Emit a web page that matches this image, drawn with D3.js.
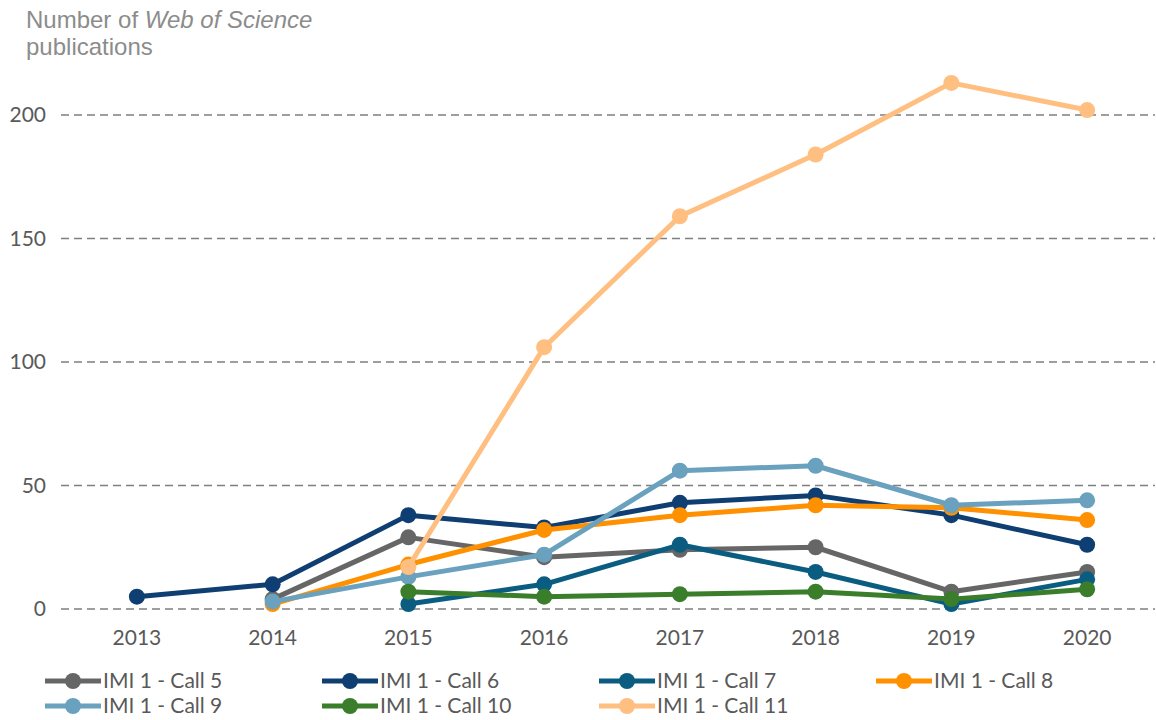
<!DOCTYPE html>
<html>
<head>
<meta charset="utf-8">
<script src="https://cdn.jsdelivr.net/npm/d3@7"></script>
<style>
  body { margin: 0; background: #fff; }
  svg { display: block; font-family: Lato, "Liberation Sans", Arial, sans-serif; }
</style>
</head>
<body>
<svg id="chart" width="1156" height="720"></svg>
<script>
// years on the x axis
const years = ['2013', '2014', '2015', '2016', '2017', '2018', '2019', '2020'];
const yTicks = [0, 50, 100, 150, 200];

// one array per call, null where the call has no publications yet
const call5 = [null, 4, 29, 21, 24, 25, 7, 15];
const call6 = [5, 10, 38, 33, 43, 46, 38, 26];
const call7 = [null, null, 2, 10, 26, 15, 2, 12];
const call8 = [null, 2, 18, 32, 38, 42, 41, 36];
const call9 = [null, 3, 13, 22, 56, 58, 42, 44];
const call10 = [null, null, 7, 5, 6, 7, 4, 8];
const call11 = [null, null, 17, 106, 159, 184, 213, 202];

const seriesNames = ['IMI 1 - Call 5', 'IMI 1 - Call 6', 'IMI 1 - Call 7', 'IMI 1 - Call 8',
  'IMI 1 - Call 9', 'IMI 1 - Call 10', 'IMI 1 - Call 11'];
const seriesValues = [call5, call6, call7, call8, call9, call10, call11];
const seriesColors = ['#666666', '#0f3f72', '#0a5d80', '#ff9000', '#6aa1be', '#3a7d2b', '#ffbf80'];

const series = seriesNames.map((name, i) => ({
  name,
  color: seriesColors[i],
  points: years.map((yr, j) => ({ year: yr, value: seriesValues[i][j] })).filter(d => d.value !== null)
}));

const svg = d3.select('#chart');
const margin = { top: 115, right: 1, bottom: 111, left: 69 };
const width = 1156 - margin.left - margin.right;
const height = 720 - margin.top - margin.bottom;

const x = d3.scaleBand().domain(years).range([0, width]);
const y = d3.scaleLinear().domain([0, 200]).range([height, 0]);

const g = svg.append('g').attr('transform', `translate(${margin.left},${margin.top})`);

// dashed gridlines
g.selectAll('line.grid')
  .data(yTicks)
  .join('line')
  .attr('class', 'grid')
  .attr('x1', -8)
  .attr('x2', width)
  .attr('y1', d => y(d))
  .attr('y2', d => y(d))
  .style('stroke', '#7f7f7f')
  .style('stroke-width', 1.5)
  .style('stroke-dasharray', '8,5');

// y axis labels
const yAxis = g.append('g').call(d3.axisLeft(y).tickValues(yTicks).tickSize(0).tickPadding(23));
yAxis.select('.domain').remove();
yAxis.selectAll('text')
  .style('font-size', '21px')
  .style('fill', '#595959')
  .style('font-family', 'Lato, "Liberation Sans", Arial, sans-serif');

// x axis labels
const xAxis = g.append('g')
  .attr('transform', `translate(0,${height})`)
  .call(d3.axisBottom(x).tickSize(0).tickPadding(21));
xAxis.select('.domain').remove();
xAxis.selectAll('text')
  .style('font-size', '21px')
  .style('fill', '#595959')
  .style('font-family', 'Lato, "Liberation Sans", Arial, sans-serif');

const cx = d => x(d.year) + x.bandwidth() / 2;
const line = d3.line().x(cx).y(d => y(d.value));

// lines and markers, call 11 ends up on top
series.forEach(s => {
  const sg = g.append('g');
  sg.append('path')
    .datum(s.points)
    .attr('d', line)
    .style('fill', 'none')
    .style('stroke', s.color)
    .style('stroke-width', 5)
    .style('stroke-linejoin', 'round');
  sg.selectAll('circle')
    .data(s.points)
    .join('circle')
    .attr('cx', cx)
    .attr('cy', d => y(d.value))
    .attr('r', 8)
    .style('fill', s.color);
});

// title in the top left
const title = svg.append('text')
  .attr('x', 26)
  .attr('y', 28)
  .style('font-family', '"Liberation Sans", Arial, sans-serif')
  .style('font-size', '24px')
  .style('fill', '#8c8c8c');
title.append('tspan').text('Number of ');
title.append('tspan').style('font-style', 'italic').text('Web of Science');
svg.append('text')
  .attr('x', 26)
  .attr('y', 55)
  .style('font-family', '"Liberation Sans", Arial, sans-serif')
  .style('font-size', '24px')
  .style('fill', '#8c8c8c')
  .text('publications');

// legend, 4 columns
const legend = svg.append('g');
series.forEach((s, i) => {
  const lx = 45 + (i % 4) * 277;
  const ly = 681 + Math.floor(i / 4) * 25;
  const item = legend.append('g').attr('transform', `translate(${lx},${ly})`);
  item.append('line')
    .attr('x1', 0).attr('x2', 56)
    .attr('y1', 0).attr('y2', 0)
    .style('stroke', s.color)
    .style('stroke-width', 5);
  item.append('circle')
    .attr('cx', 28).attr('cy', 0).attr('r', 8)
    .style('fill', s.color);
  item.append('text')
    .attr('x', 58)
    .attr('y', 0)
    .attr('dy', '0.35em')
    .style('font-size', '21px')
    .style('fill', '#595959')
    .text(s.name);
});
</script>
</body>
</html>
